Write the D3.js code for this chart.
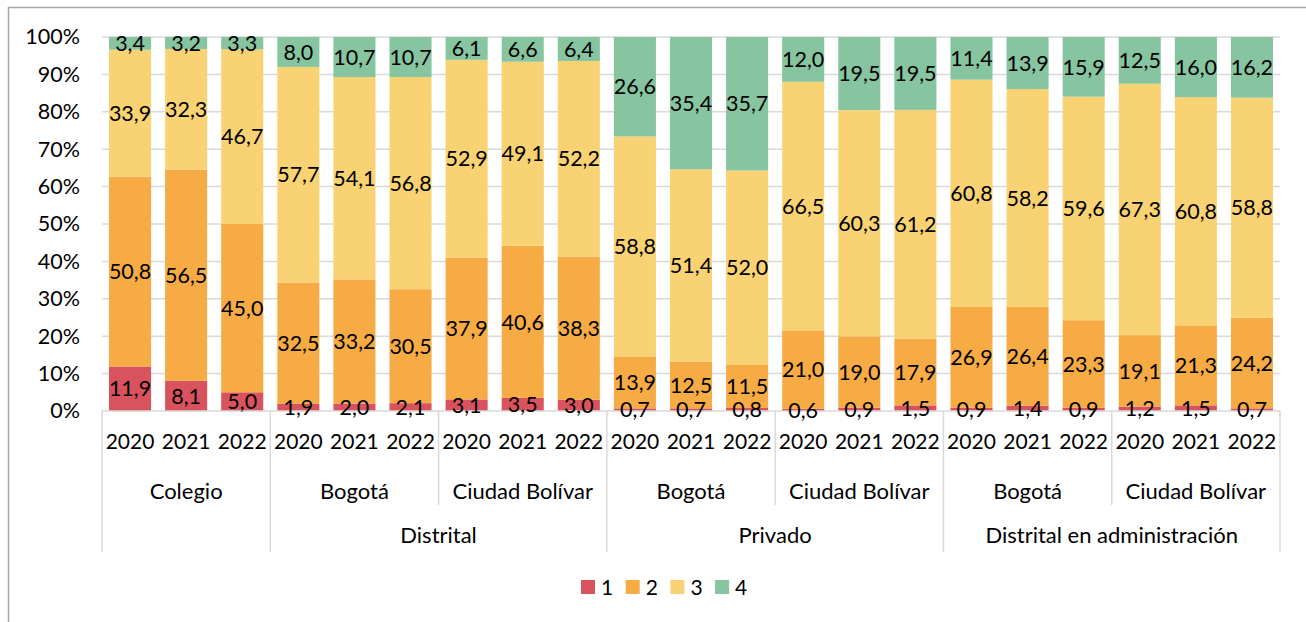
<!DOCTYPE html>
<html>
<head>
<meta charset="utf-8">
<script src="https://cdn.jsdelivr.net/npm/d3@7"></script>
<style>
  body { margin: 0; background: #fff; }
  svg { font-family: Lato, "Liberation Sans", sans-serif; }
</style>
</head>
<body>
<div id="chart"></div>
<script>
// categories: top level group, sub group, year
const groups = ['', 'Distrital', 'Privado', 'Distrital en administración'];
const subGroups = [
  { name: 'Colegio', group: 0 },
  { name: 'Bogotá', group: 1 },
  { name: 'Ciudad Bolívar', group: 1 },
  { name: 'Bogotá', group: 2 },
  { name: 'Ciudad Bolívar', group: 2 },
  { name: 'Bogotá', group: 3 },
  { name: 'Ciudad Bolívar', group: 3 },
];
const years = ['2020', '2021', '2022'];

const seriesNames = ['1', '2', '3', '4'];
const colors = ['#d9535f', '#f7ab45', '#f9d273', '#86c5a0'];

const s1 = [11.9, 8.1, 5.0, 1.9, 2.0, 2.1, 3.1, 3.5, 3.0, 0.7, 0.7, 0.8, 0.6, 0.9, 1.5, 0.9, 1.4, 0.9, 1.2, 1.5, 0.7];
const s2 = [50.8, 56.5, 45.0, 32.5, 33.2, 30.5, 37.9, 40.6, 38.3, 13.9, 12.5, 11.5, 21.0, 19.0, 17.9, 26.9, 26.4, 23.3, 19.1, 21.3, 24.2];
const s3 = [33.9, 32.3, 46.7, 57.7, 54.1, 56.8, 52.9, 49.1, 52.2, 58.8, 51.4, 52.0, 66.5, 60.3, 61.2, 60.8, 58.2, 59.6, 67.3, 60.8, 58.8];
const s4 = [3.4, 3.2, 3.3, 8.0, 10.7, 10.7, 6.1, 6.6, 6.4, 26.6, 35.4, 35.7, 12.0, 19.5, 19.5, 11.4, 13.9, 15.9, 12.5, 16.0, 16.2];

const yTicks = [0, 0.1, 0.2, 0.3, 0.4, 0.5, 0.6, 0.7, 0.8, 0.9, 1];

// build rows
const rows = [];
subGroups.forEach((sg, j) => {
  years.forEach((y, k) => {
    const i = j * 3 + k;
    rows.push({ id: i, year: y, sub: j, s1: s1[i], s2: s2[i], s3: s3[i], s4: s4[i] });
  });
});

const width = 1306;
const height = 622;
const plot = { left: 102, right: 1280, top: 37, bottom: 411 };

const svg = d3.select('#chart')
  .append('svg')
  .attr('width', width)
  .attr('height', height);

// outer frame
svg.append('rect')
  .attr('x', 8.5).attr('y', 7.5)
  .attr('width', 1400).attr('height', 700)
  .attr('fill', 'none')
  .attr('stroke', '#a6a6a6')
  .attr('stroke-width', 1.5);

const x = d3.scaleBand()
  .domain(rows.map((d) => d.id))
  .range([plot.left, plot.right])
  .paddingInner(0.25)
  .paddingOuter(0.125);

const y = d3.scaleLinear()
  .domain([0, 1])
  .range([plot.bottom, plot.top]);

// gridlines
svg.append('g')
  .selectAll('line')
  .data(yTicks.slice(1))
  .enter()
  .append('line')
  .attr('x1', plot.left).attr('x2', plot.right)
  .attr('y1', (d) => y(d)).attr('y2', (d) => y(d))
  .attr('stroke', '#d9d9d9')
  .attr('stroke-width', 1.5);

// y axis labels
const yAxis = d3.axisLeft(y)
  .tickValues(yTicks)
  .tickFormat(d3.format('.0%'))
  .tickSize(0)
  .tickPadding(22);

svg.append('g')
  .attr('transform', `translate(${plot.left},0)`)
  .call(yAxis)
  .call((g) => g.select('.domain').remove())
  .selectAll('text')
  .attr('font-family', 'Lato, sans-serif')
  .attr('font-size', 21.5)
  .attr('fill', '#000');

// stacked bars (normalised to 100%)
const stack = d3.stack().keys(['s1', 's2', 's3', 's4'])
  .offset(d3.stackOffsetExpand);
const layers = stack(rows);

const fmt = (v) => v.toFixed(1).replace('.', ',');

layers.forEach((layer, li) => {
  const g = svg.append('g');
  g.selectAll('rect')
    .data(layer)
    .enter()
    .append('rect')
    .attr('x', (d) => x(d.data.id))
    .attr('width', x.bandwidth())
    .attr('y', (d) => y(d[1]))
    .attr('height', (d) => y(d[0]) - y(d[1]))
    .attr('fill', colors[li]);
});

// x axis line
svg.append('line')
  .attr('x1', plot.left).attr('x2', plot.right)
  .attr('y1', plot.bottom).attr('y2', plot.bottom)
  .attr('stroke', '#d9d9d9')
  .attr('stroke-width', 1.5);

// data labels
layers.forEach((layer) => {
  svg.append('g')
    .selectAll('text')
    .data(layer)
    .enter()
    .append('text')
    .attr('x', (d) => x(d.data.id) + x.bandwidth() / 2)
    .attr('y', (d) => (y(d[0]) + y(d[1])) / 2)
    .attr('dy', '0.36em')
    .attr('text-anchor', 'middle')
    .attr('font-size', 21.5)
    .attr('fill', '#000')
    .text((d) => fmt(d.data[layer.key]));
});

// multi level category axis
const step = x.step();
const axisG = svg.append('g');

axisG.selectAll('text.year')
  .data(rows)
  .enter()
  .append('text')
  .attr('class', 'year')
  .attr('x', (d) => x(d.id) + x.bandwidth() / 2)
  .attr('y', 441)
  .attr('dy', '0.36em')
  .attr('text-anchor', 'middle')
  .attr('font-size', 21)
  .attr('fill', '#000')
  .text((d) => d.year);

const subStart = (j) => plot.left + j * 3 * step;

axisG.selectAll('text.sub')
  .data(subGroups)
  .enter()
  .append('text')
  .attr('class', 'sub')
  .attr('x', (d, j) => subStart(j) + 1.5 * step)
  .attr('y', 491)
  .attr('dy', '0.36em')
  .attr('text-anchor', 'middle')
  .attr('font-size', 22)
  .attr('fill', '#000')
  .text((d) => d.name);

// top level groups
groups.forEach((gname, gi) => {
  const idx = subGroups.map((s, j) => (s.group === gi ? j : -1)).filter((j) => j >= 0);
  const x0 = subStart(idx[0]);
  const x1 = subStart(idx[idx.length - 1] + 1);
  if (gname) {
    axisG.append('text')
      .attr('x', (x0 + x1) / 2)
      .attr('y', 535)
      .attr('dy', '0.36em')
      .attr('text-anchor', 'middle')
      .attr('font-size', 22)
      .attr('fill', '#000')
      .text(gname);
  }
});

// separators
const seps = [];
for (let j = 0; j <= subGroups.length; j++) {
  const full = j === 0 || j === subGroups.length || subGroups[j].group !== subGroups[j - 1].group;
  seps.push({ x: subStart(j), y2: full ? 552 : 505 });
}
axisG.selectAll('line.sep')
  .data(seps)
  .enter()
  .append('line')
  .attr('x1', (d) => d.x).attr('x2', (d) => d.x)
  .attr('y1', plot.bottom).attr('y2', (d) => d.y2)
  .attr('stroke', '#d9d9d9')
  .attr('stroke-width', 1.5);

// legend
const legend = svg.append('g')
  .attr('transform', 'translate(581,580)');
seriesNames.forEach((s, i) => {
  legend.append('rect')
    .attr('x', i * 44.7)
    .attr('y', 0)
    .attr('width', 14)
    .attr('height', 14)
    .attr('fill', colors[i]);
  legend.append('text')
    .attr('x', i * 44.7 + 20)
    .attr('y', 7)
    .attr('dy', '0.36em')
    .attr('font-size', 21)
    .attr('fill', '#000')
    .text(s);
});
</script>
</body>
</html>
